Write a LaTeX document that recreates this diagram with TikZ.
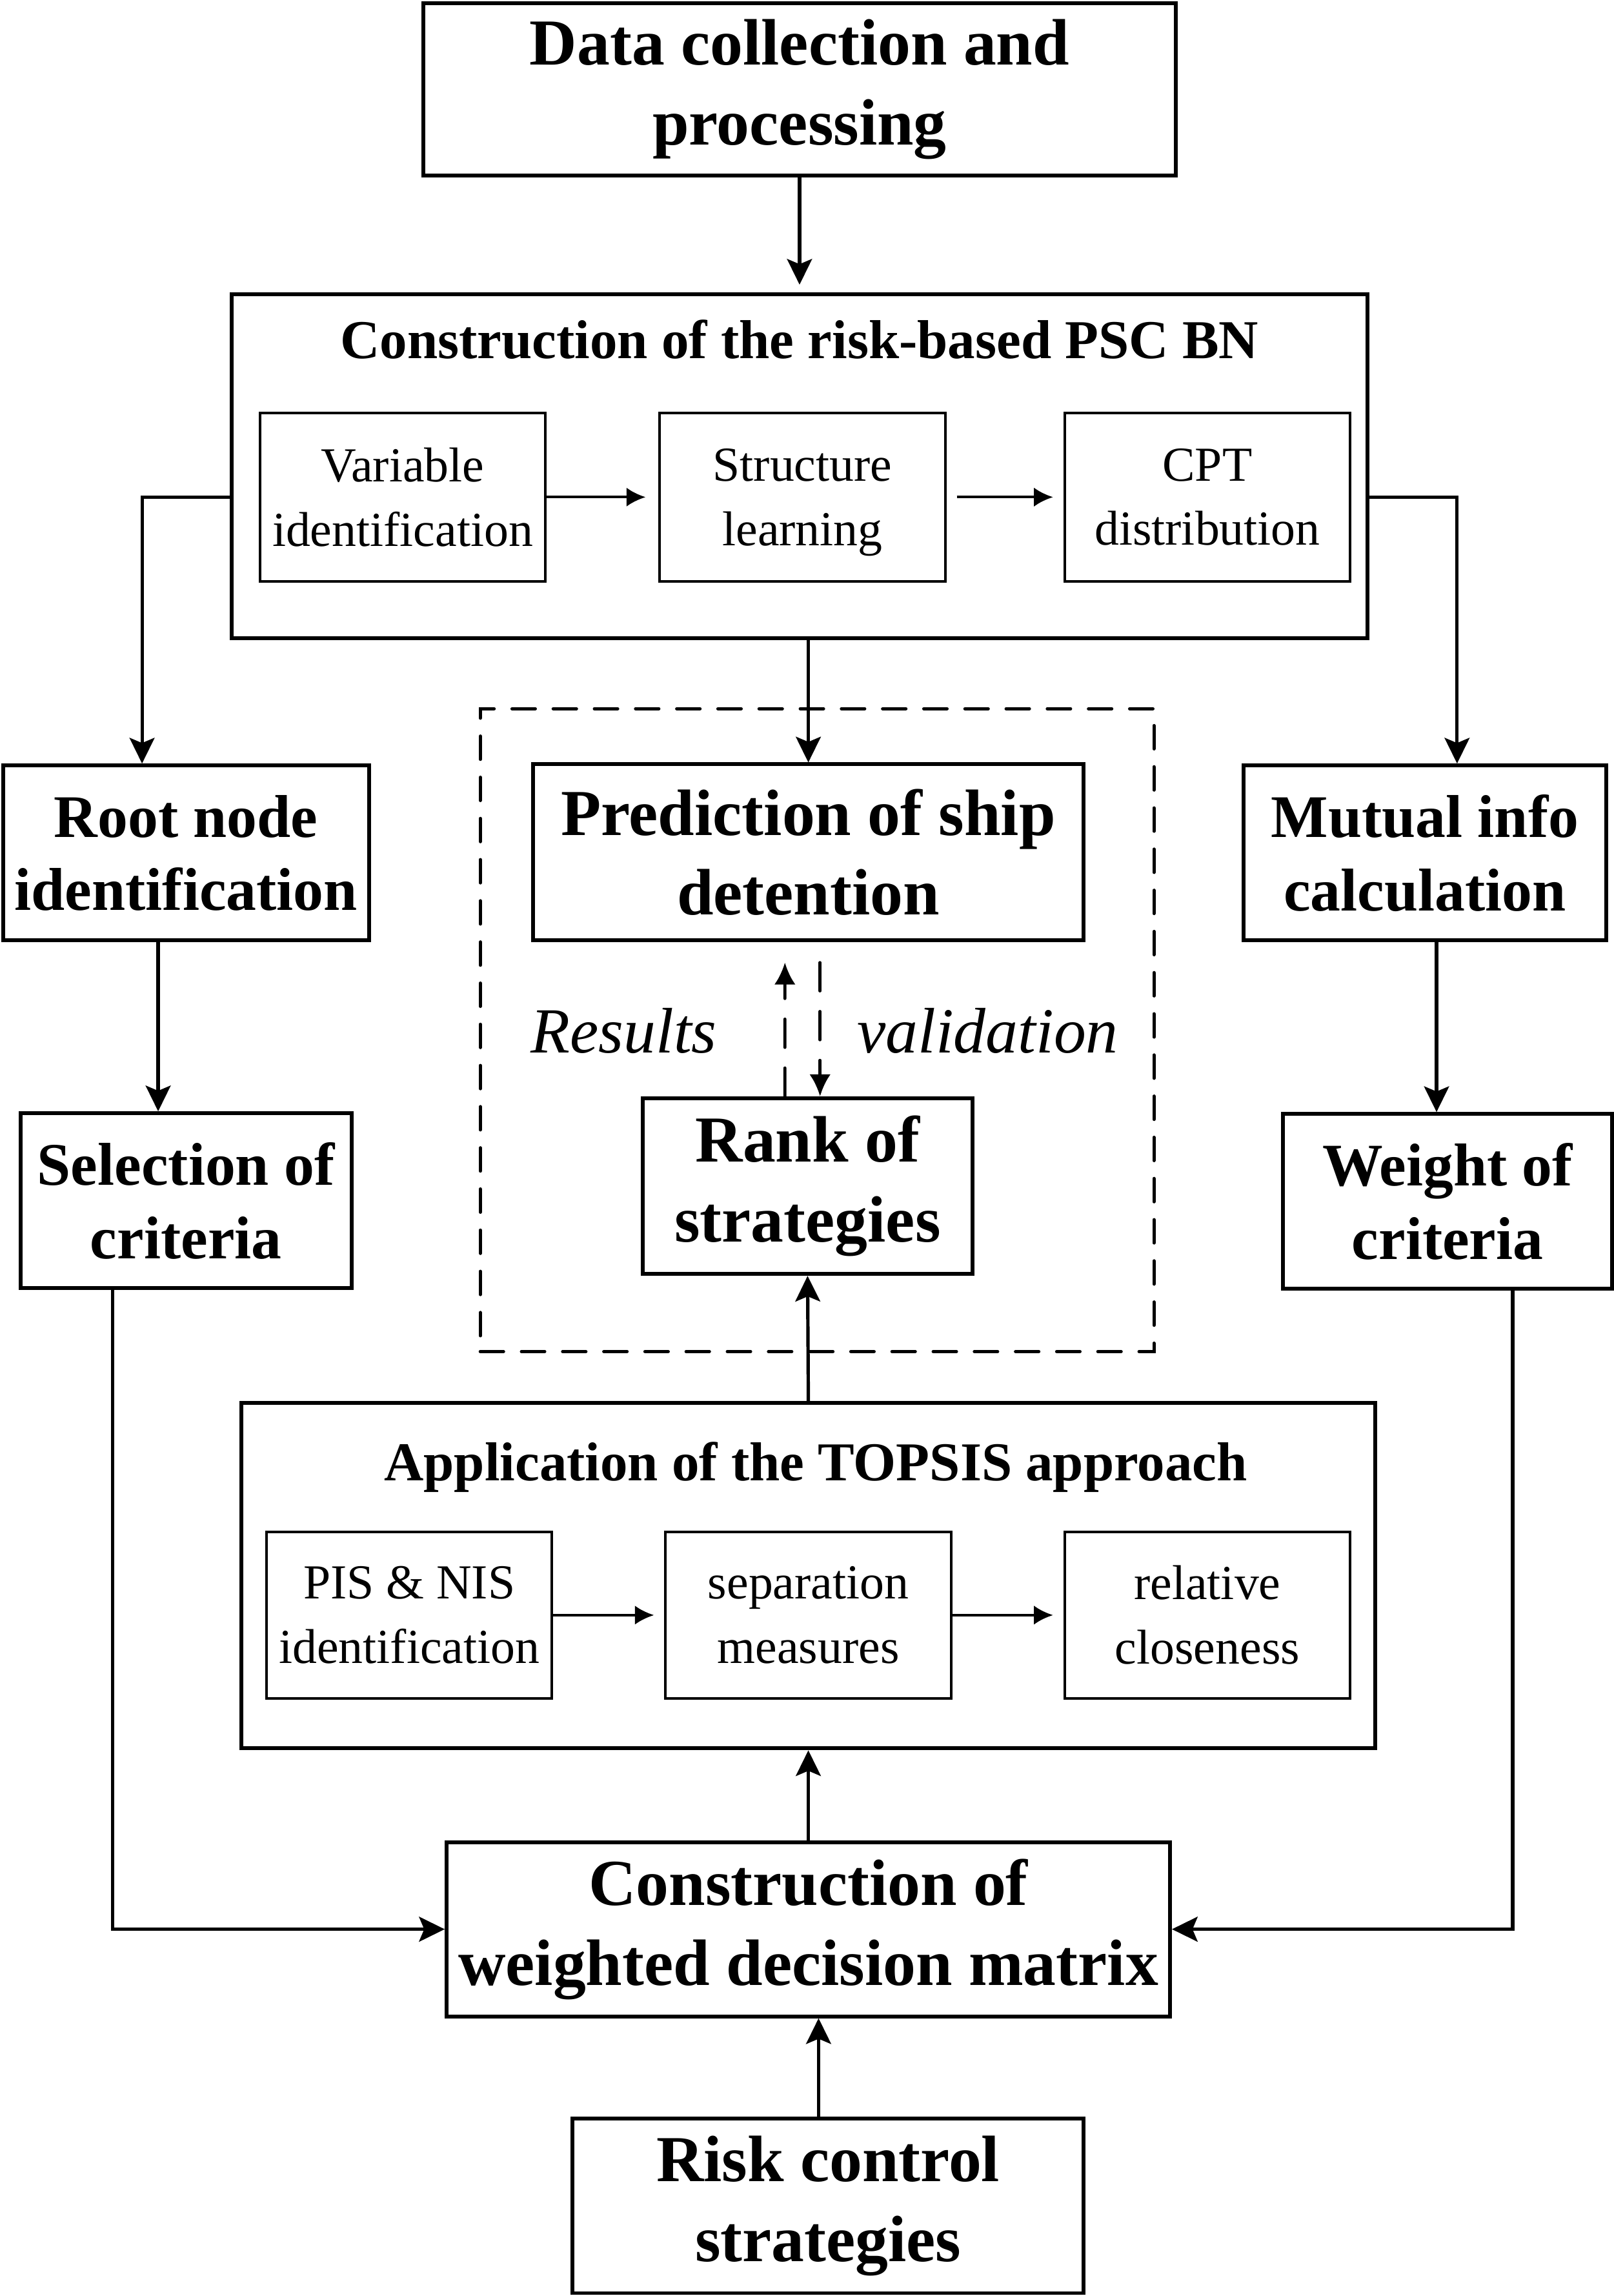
\documentclass[tikz,border=0pt]{standalone}
\usepackage{fontspec}
\setmainfont{Liberation Serif}
\usetikzlibrary{arrows.meta}
\usetikzlibrary{positioning}

\begin{document}
\begin{tikzpicture}
\tikzset{bigbox/.style = {draw,line width=1.5pt,align=center,inner sep=0pt,font=\fontsize{25.5}{31}\selectfont\bfseries}}
\tikzset{sidebox/.style = {draw,line width=1.5pt,align=center,inner sep=0pt,minimum height=2.39cm,font=\fontsize{23.5}{28.5}\selectfont\bfseries}}
\tikzset{inbox/.style = {draw,line width=1pt,align=center,inner sep=0pt,minimum width=3.9cm,minimum height=2.3cm,font=\fontsize{19}{25}\selectfont}}
\tikzset{title/.style = {inner sep=0pt,font=\fontsize{21.3}{25}\selectfont\bfseries}}
\tikzset{arr/.style = {-{Stealth[length=3.5mm,width=3.4mm,inset=0.7mm]},line width=1.3pt}}
\tikzset{inarr/.style = {-{Latex[length=2.6mm,width=2.6mm]},line width=1pt}}
\tikzset{dasharr/.style = {-{Latex[length=3mm,width=2.9mm]},line width=1.2pt,line cap=round,dash pattern=on 11pt off 8pt}}
\tikzset{frame/.style = {draw,line width=1.3pt,line cap=round,dash pattern=on 9pt off 7pt,minimum width=9.2cm,minimum height=8.78cm}}
\useasboundingbox (0,0) rectangle (22.04,-31.36);
% boxes
\node[frame] (frame) at (11.16,-14.07) {};
\node[bigbox,minimum width=10.28cm,minimum height=2.36cm] (data) at (10.92,-1.22) {Data collection and\\processing};
\node[draw,line width=1.5pt,minimum width=15.52cm,minimum height=4.7cm] (bn) at (10.92,-6.37) {};
\node[title] (bntitle) at (10.92,-4.64) {Construction of the risk-based PSC BN};
\node[inbox] (var) at (5.5,-6.79) {Variable\\identification};
\node[inbox] (struct) at (10.96,-6.79) {Structure\\\raisebox{0pt}[\height][0pt]{learning}};
\node[inbox] (cpt) at (16.49,-6.79) {CPT\\distribution};
\node[sidebox,minimum width=5cm] (root) at (2.54,-11.65) {Root node\\identification};
\node[sidebox,minimum width=4.52cm] (sel) at (2.54,-16.4) {Selection of\\criteria};
\node[sidebox,minimum width=4.96cm] (mut) at (19.46,-11.65) {Mutual info\\calculation};
\node[sidebox,minimum width=4.5cm] (wt) at (19.77,-16.41) {Weight of\\criteria};
\node[bigbox,minimum width=7.52cm,minimum height=2.4cm] (pred) at (11.04,-11.64) {Prediction of ship\\detention};
\node[bigbox,minimum width=4.5cm,minimum height=2.4cm] (rank) at (11.03,-16.2) {Rank of\\strategies};
\node[font=\fontsize{25}{30}\selectfont\itshape] (res) at (8.52,-14.08) {Results};
\node[font=\fontsize{25}{30}\selectfont\itshape] (val) at (13.49,-14.08) {validation};
\node[draw,line width=1.5pt,minimum width=15.48cm,minimum height=4.72cm] (topsis) at (11.04,-21.52) {};
\node[title] (toptitle) at (11.14,-20.04) {Application of the TOPSIS approach};
\node[inbox,minimum height=2.28cm] (pis) at (5.59,-22.06) {PIS \& NIS\\identification};
\node[inbox,minimum height=2.28cm] (sep) at (11.04,-22.06) {separation\\measures};
\node[inbox,minimum height=2.28cm] (rel) at (16.49,-22.06) {relative\\closeness};
\node[bigbox,minimum width=9.88cm,minimum height=2.38cm] (wdm) at (11.04,-26.35) {Construction of\\weighted decision matrix};
\node[bigbox,minimum width=6.98cm,minimum height=2.38cm] (risk) at (11.31,-30.13) {Risk control\\strategies};
% arrows
\draw[arr,shorten >=3pt] (data) -- (bn);
\draw[inarr,shorten >=5pt] (var) -- (struct);
\draw[inarr,shorten <=4pt,shorten >=4pt] (struct) -- (cpt);
\draw[arr] (bn.west |- var) -| ([xshift=-6mm]root.north);
\draw[arr] (bn.east |- cpt) -| ([xshift=4.4mm]mut.north);
\draw[arr] (bn.south -| pred.north) -- (pred.north);
\draw[arr] ([xshift=-3.8mm]root.south) -- ([xshift=-3.8mm]sel.north);
\draw[arr] ([xshift=1.6mm]mut.south) -- ([xshift=1.6mm]mut.south |- wt.north);
\draw[dasharr,shorten >=8pt] ([xshift=-3.1mm]rank.north) -- ([xshift=-3.2mm]pred.south);
\draw[dasharr,shorten <=8pt] ([xshift=1.6mm]pred.south) -- ([xshift=1.6mm]pred.south |- rank.north);
\draw[arr] (topsis.north) -- (rank.south);
\draw[inarr,shorten >=4pt] (pis) -- (sep);
\draw[inarr,shorten >=4pt] (sep) -- (rel);
\draw[arr] ([xshift=-1cm]sel.south) |- (wdm.west);
\draw[arr] ([xshift=8.9mm]wt.south) |- (wdm.east);
\draw[arr] (wdm.north) -- (topsis.south);
\draw[arr] ([xshift=-1.3mm]risk.north) -- ([xshift=-1.3mm]risk.north |- wdm.south);
\end{tikzpicture}
\end{document}
